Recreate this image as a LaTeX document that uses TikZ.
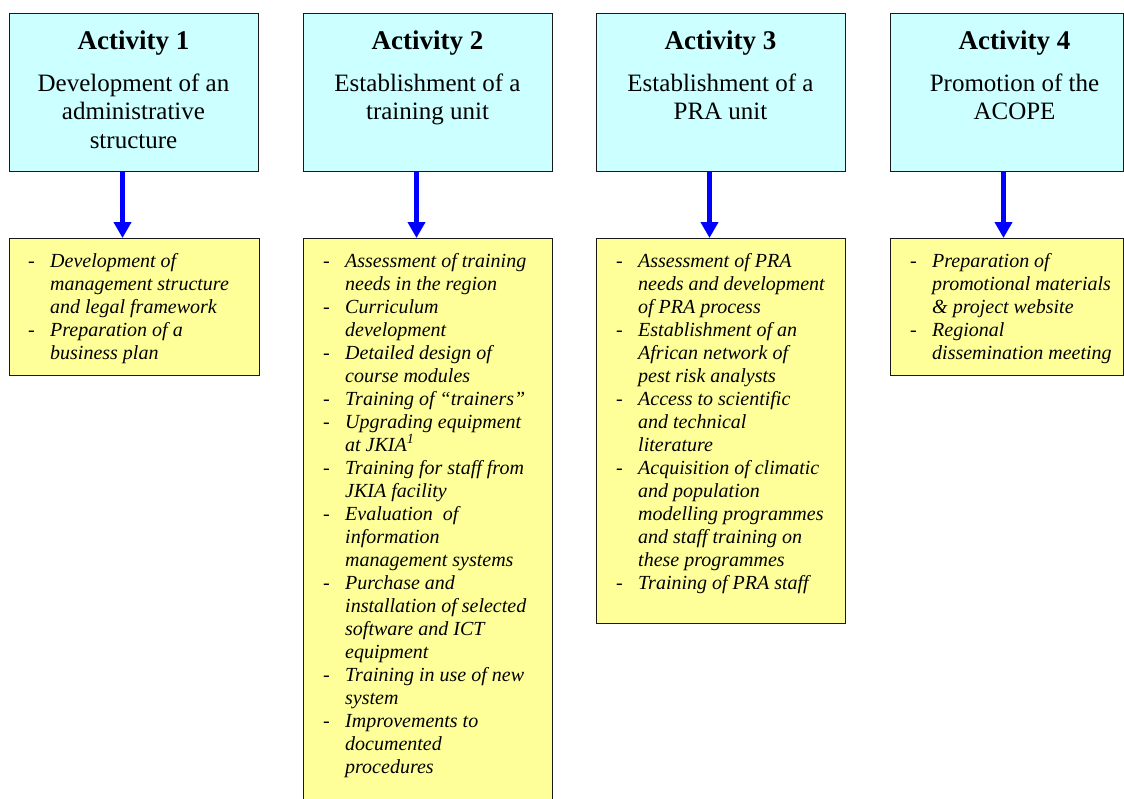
\documentclass[tikz,border=0pt]{standalone}
\usepackage{fontspec}
\setmainfont{Liberation Serif}
\usetikzlibrary{arrows.meta}
\definecolor{boxcyan}{HTML}{CCFFFF}
\definecolor{boxyellow}{HTML}{FFFF99}
\newcommand{\task}[1]{\par\noindent\hangindent=22pt\hangafter=1\makebox[22pt][l]{-}\textit{#1}}

\begin{document}
\begin{tikzpicture}[x=1pt,y=-1pt,
  head/.style={draw=black!90,line width=1.3pt,fill=boxcyan,minimum width=249pt,minimum height=158pt,anchor=north west,inner sep=0pt},
  work/.style={draw=black!90,line width=1.3pt,fill=boxyellow,minimum width=250pt,anchor=north west,inner sep=0pt},
  title/.style={anchor=base,inner sep=0pt,font=\bfseries\fontsize{27}{31}\selectfont},
  aim/.style={anchor=base,inner sep=0pt,font=\fontsize{25}{28.5}\selectfont},
  tasks/.style={anchor=base west,inner sep=0pt,font=\fontsize{20}{23}\selectfont},
  flow/.style={draw=blue,line width=5.5pt,-{Triangle[width=17pt,length=16pt]}}]
\clip (0,0) rectangle (1124,798);

\node[head] (a1) at (9,13) {};
\node[head] (a2) at (303,13) {};
\node[head] (a3) at (596,13) {};
\node[head,minimum width=233pt] (a4) at (890,13) {};

\node[title] (h1) at ([xshift=124.5pt,yshift=-36pt]a1.north west) {Activity 1};
\node[title] (h2) at ([xshift=124.5pt,yshift=-36pt]a2.north west) {Activity 2};
\node[title] (h3) at ([xshift=124.5pt,yshift=-36pt]a3.north west) {Activity 3};
\node[title] (h4) at ([xshift=124.5pt,yshift=-36pt]a4.north west) {Activity 4};

\node[aim] (d1) at ([xshift=124.5pt,yshift=-78pt]a1.north west) {\parbox[t]{240pt}{\centering Development of an\\administrative\\structure}};
\node[aim] (d2) at ([xshift=124.5pt,yshift=-78pt]a2.north west) {\parbox[t]{240pt}{\centering Establishment of a\\training unit}};
\node[aim] (d3) at ([xshift=124.5pt,yshift=-78pt]a3.north west) {\parbox[t]{240pt}{\centering Establishment of a\\PRA unit}};
\node[aim] (d4) at ([xshift=124.5pt,yshift=-78pt]a4.north west) {\parbox[t]{240pt}{\centering Promotion of the\\ACOPE}};

% task boxes
\node[work,minimum height=137pt] (b1) at (9,238) {};
\node[work,minimum width=249pt,minimum height=575pt] (b2) at (303,238) {};
\node[work,minimum width=249pt,minimum height=385pt] (b3) at (596,238) {};
\node[work,minimum width=233pt,minimum height=137pt] (b4) at (890,238) {};

\node[tasks] (l1) at ([xshift=19pt,yshift=-29pt]b1.north west) {\parbox[t]{240pt}{\raggedright
  \task{Development of\newline management structure\newline and legal framework}
  \task{Preparation of a\newline business plan}}};
\node[tasks] (l2) at ([xshift=20pt,yshift=-29pt]b2.north west) {\parbox[t]{240pt}{\raggedright
  \task{Assessment of training\newline needs in the region}
  \task{Curriculum\newline development}
  \task{Detailed design of\newline course modules}
  \task{Training of “trainers”}
  \task{Upgrading equipment\newline at JKIA\textsuperscript{1}}
  \task{Training for staff from\newline JKIA facility}
  \task{Evaluation\ \ of\newline information\newline management systems}
  \task{Purchase and\newline installation of selected\newline software and ICT\newline equipment}
  \task{Training in use of new\newline system}
  \task{Improvements to\newline documented\newline procedures}}};
\node[tasks] (l3) at ([xshift=20pt,yshift=-29pt]b3.north west) {\parbox[t]{240pt}{\raggedright
  \task{Assessment of PRA\newline needs and development\newline of PRA process}
  \task{Establishment of an\newline African network of\newline pest risk analysts}
  \task{Access to scientific\newline and technical\newline literature}
  \task{Acquisition of climatic\newline and population\newline modelling programmes\newline and staff training on\newline these programmes}
  \task{Training of PRA staff}}};
\node[tasks] (l4) at ([xshift=20pt,yshift=-29pt]b4.north west) {\parbox[t]{240pt}{\raggedright
  \task{Preparation of\newline promotional materials\newline \& project website}
  \task{Regional\newline dissemination meeting}}};

\draw[flow] ([xshift=113.5pt]a1.south west) -- ([xshift=113.5pt]b1.north west);
\draw[flow] ([xshift=113.5pt]a2.south west) -- ([xshift=113.5pt]b2.north west);
\draw[flow] ([xshift=113.5pt]a3.south west) -- ([xshift=113.5pt]b3.north west);
\draw[flow] ([xshift=113.5pt]a4.south west) -- ([xshift=113.5pt]b4.north west);
\end{tikzpicture}
\end{document}
